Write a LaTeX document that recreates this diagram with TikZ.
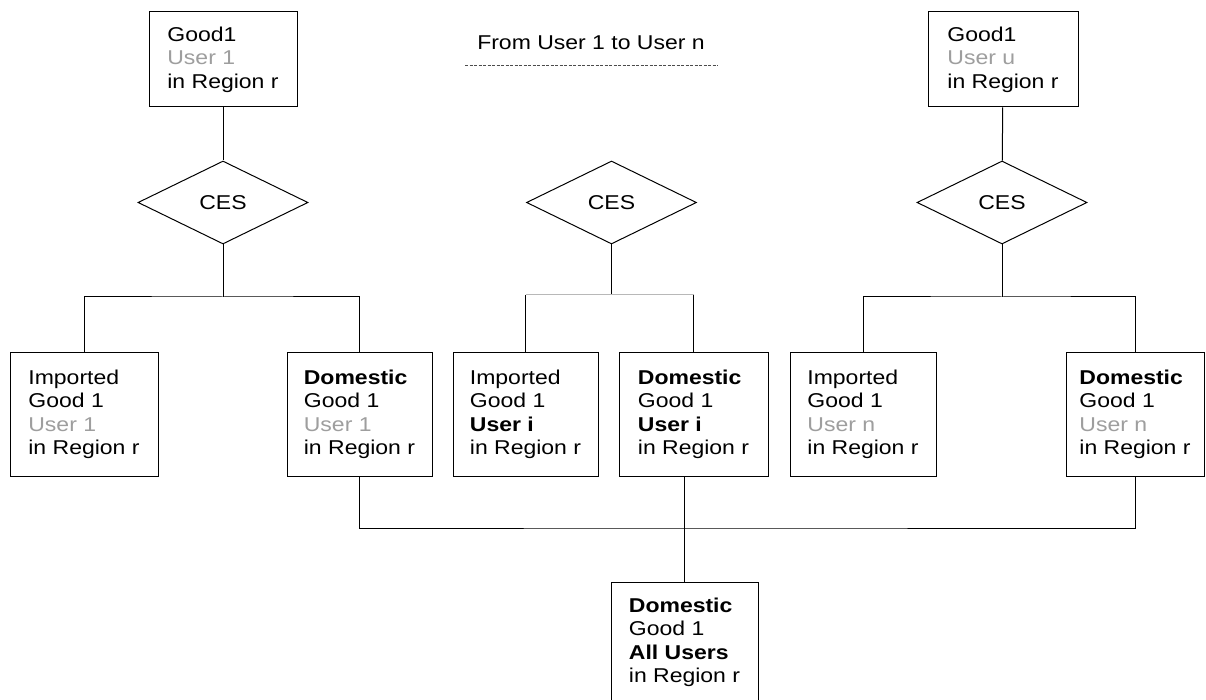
\documentclass[tikz,border=0pt]{standalone}
\usepackage{fontspec}
\setmainfont{Liberation Sans}[FakeStretch=1.15]
\usetikzlibrary{shapes.geometric}
\definecolor{faded}{gray}{0.62}
\definecolor{faintline}{gray}{0.72}
\begin{document}
\begin{tikzpicture}[x=1pt,y=-1pt,
  every node/.style={font=\fontsize{20}{23.5}\selectfont},
  box/.style={draw, line width=1pt, align=left, inner sep=0pt},
  ces/.style={draw, diamond, aspect=2, line width=1pt, inner sep=0pt, minimum width=170pt, minimum height=83pt},
  conn/.style={line width=1pt},
  faint/.style={line width=1pt, faintline}]
\useasboundingbox (0,0) rectangle (1206,700);
\fill[white] (0,0) rectangle (1206,700);

% title
\node (title) at (591,43) {From User 1 to User n};
\coordinate (ulA) at (465,65);
\coordinate (ulB) at (718,65);
\draw[line width=0.8pt, black!70, dash pattern=on 3pt off 1.5pt] (ulA) -- (ulB);

% top boxes
\node[box, minimum width=148pt, minimum height=95pt] (topL) at (223,59.5)
  {Good1\\\textcolor{faded}{User 1}\\in Region r};
\node[box, minimum width=150pt, minimum height=95pt] (topR) at (1003,59.5)
  {Good1\\\textcolor{faded}{User u}\\in Region r};

% CES diamonds
\node[ces] (cesL) at (223,202.5) {CES};
\node[ces] (cesM) at (611.5,202.5) {CES};
\node[ces] (cesR) at (1002,202.5) {CES};

% second row
\node[box, minimum width=148pt, minimum height=124pt] (impL) at (84,414.5)
  {Imported\\Good 1\\\textcolor{faded}{User 1}\\in Region r};
\node[box, minimum width=145pt, minimum height=124pt] (domL) at (359.5,414.5)
  {\textbf{Domestic}\\Good 1\\\textcolor{faded}{User 1}\\in Region r};
\node[box, minimum width=145pt, minimum height=124pt] (impM) at (525.5,414.5)
  {Imported\\Good 1\\\textbf{User i}\\in Region r};
\node[box, minimum width=149pt, minimum height=124pt] (domM) at (693.5,414.5)
  {\textbf{Domestic}\\Good 1\\\textbf{User i}\\in Region r};
\node[box, minimum width=146pt, minimum height=124pt] (impR) at (863,414.5)
  {Imported\\Good 1\\\textcolor{faded}{User n}\\in Region r};
\node[box, minimum width=138pt, minimum height=124pt] (domR) at (1135,414.5)
  {\textbf{Domestic}\\Good 1\\\textcolor{faded}{User n}\\in Region r};

% bottom box
\node[box, minimum width=147pt, minimum height=121pt] (bot) at (684.5,642.5)
  {\textbf{Domestic}\\Good 1\\\textbf{All Users}\\in Region r};

% junctions
\coordinate (jL) at (223,297);
\coordinate (jM) at (611.5,295);
\coordinate (jR) at (1002,297);
\coordinate (jB) at (684.5,528);

% connectors
\draw[conn] (topL) -- (cesL);
\draw[conn] (topR) -- (cesR);

\draw[conn] (cesL.south) -- (jL);
\draw[conn] (impL.north) |- (jL) -| (domL.north);

\draw[conn] (cesM.south) -- (jM);
\draw[faint] (impM.north |- jM) -- (domM.north |- jM);
\draw[conn] (impM.north |- jM) -- (impM.north);
\draw[conn] (domM.north |- jM) -- (domM.north);

\draw[conn] (cesR.south) -- (jR);
\draw[conn] (impR.north) |- (jR) -| (domR.north);

\draw[conn] (domL.south) |- (jB) -| (domR.south);
\draw[conn] (bot.north |- domM.south) -- (bot.north);
\end{tikzpicture}
\end{document}
